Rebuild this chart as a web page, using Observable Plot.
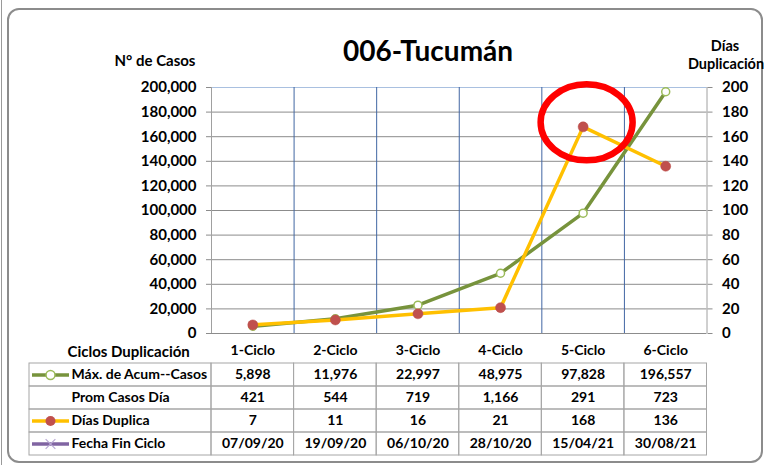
<!DOCTYPE html>
<html><head><meta charset="utf-8">
<script src="https://cdn.jsdelivr.net/npm/d3@7"></script>
<script src="https://cdn.jsdelivr.net/npm/@observablehq/plot@0.6"></script>
<style>
body{margin:0;background:#fff;font-family:Lato,"Open Sans",sans-serif;}
#wrap{position:relative;width:766px;height:465px;overflow:hidden;background:#fff;}
#frame{position:absolute;left:7px;top:8px;width:756px;height:455px;border:2px solid #8c8c8c;border-radius:12px;box-sizing:border-box;}
#edge{position:absolute;left:1px;top:0;width:1px;height:465px;background:#9a9a9a;}
.lbl{position:absolute;transform:translate(-50%,-50%);font-weight:bold;white-space:nowrap;color:#000;}
#chart,#table{position:absolute;left:0;}
#chart{top:0;} #table{top:333px;}
svg{overflow:visible;}
</style></head>
<body><div id="wrap">
<div id="edge"></div>
<div id="frame"></div>
<div id="chart"></div>
<div id="table"></div>
<div class="lbl" style="left:428px;top:50px;font-size:28px;">006-Tucumán</div>
<div class="lbl" style="left:155px;top:60px;font-size:15px;">N° de Casos</div>
<div class="lbl" style="left:725px;top:45px;font-size:14.5px;">Días</div>
<div class="lbl" style="left:726px;top:63px;font-size:14.5px;">Duplicación</div>
</div>
<script>
// ---- data ----
const categories = ["1-Ciclo","2-Ciclo","3-Ciclo","4-Ciclo","5-Ciclo","6-Ciclo"];
const maxCasos = [5898, 11976, 22997, 48975, 97828, 196557];
const promCasos = [421, 544, 719, 1166, 291, 723];
const diasDuplica = [7, 11, 16, 21, 168, 136];
const fechaFin = ["07/09/20","19/09/20","06/10/20","28/10/20","15/04/21","30/08/21"];
const casosTicks = [0,20000,40000,60000,80000,100000,120000,140000,160000,180000,200000];
const diasTicks = [0,20,40,60,80,100,120,140,160,180,200];
const rowNames = ["Ciclos Duplicación","Máx. de Acum--Casos","Prom Casos Día","Días Duplica","Fecha Fin Ciclo"];
const highlight = "5-Ciclo";

// ---- layout ----
const W = 766, xL = 211, xR = 706.5, yTop = 87, y0 = 333, H1 = 336;
const n = categories.length;
const k = casosTicks[casosTicks.length-1] / diasTicks[diasTicks.length-1]; // secondary axis factor
const font = {fontFamily:"Lato, 'Open Sans', sans-serif", fontWeight:"bold", color:"#000", background:"transparent", overflow:"visible"};
const rows = categories.map((c,i)=>({c, xi:i+0.5, casos:maxCasos[i], dias:diasDuplica[i]*k}));
const yMax = casosTicks[casosTicks.length-1];

function highlightMark(index, scales) {
  const i = categories.indexOf(highlight);
  const e = document.createElementNS("http://www.w3.org/2000/svg","ellipse");
  e.setAttribute("cx", scales.x(i+0.5) + 4);
  e.setAttribute("cy", scales.y(diasDuplica[i]*k) - 4);
  e.setAttribute("rx", 46);
  e.setAttribute("ry", 38);
  e.setAttribute("fill","none");
  e.setAttribute("stroke","#ff0000");
  e.setAttribute("stroke-width",6.5);
  return e;
}

const chart = Plot.plot({
  width: W, height: H1,
  marginLeft: xL, marginRight: W - xR, marginTop: yTop, marginBottom: H1 - y0,
  x: {domain:[0,n], axis:null},
  y: {domain:[0, yMax], axis:null},
  style: {...font, fontSize:"15px"},
  marks: [
    Plot.ruleY(casosTicks.filter(t=>t<yMax), {stroke:"#8c8c8c", strokeWidth:1}),
    Plot.ruleY([yMax], {stroke:"#a9c0e0", strokeWidth:1}),
    Plot.ruleX(d3.range(1,n), {stroke:"#4166a3", strokeWidth:1}),
    Plot.ruleX([0,n], {stroke:"#a0a0a0", strokeWidth:1}),
    Plot.axisY({anchor:"left", ticks:casosTicks, tickFormat:d3.format(","), tickSize:5, tickPadding:10, stroke:"#8c8c8c", fill:"#000", fontSize:15, fontWeight:"bold", label:null}),
    Plot.axisY({anchor:"right", ticks:casosTicks, tickFormat:d=>d3.format("d")(d/k), tickSize:5, tickPadding:10, stroke:"#8c8c8c", fill:"#000", fontSize:15, fontWeight:"bold", label:null}),
    Plot.line(rows, {x:"xi", y:"casos", stroke:"#77933C", strokeWidth:3.5}),
    Plot.dot(rows, {x:"xi", y:"casos", r:4, fill:"white", stroke:"#9BBB59", strokeWidth:1.5}),
    Plot.line(rows, {x:"xi", y:"dias", stroke:"#FFC000", strokeWidth:3.5}),
    Plot.dot(rows, {x:"xi", y:"dias", r:5, fill:"#C0504D", stroke:"#B84A47", strokeWidth:0.5}),
    highlightMark
  ]
});
document.getElementById("chart").appendChild(chart);

// ---- data table ----
const tableLeft = 29;
const unit = (xR - xL) / n;
const labelSpan = (xL - tableLeft) / unit;
const ux = px => (px - xL) / unit;
const H2 = 132, tTop = 5.4, rowH = 23.6;
const fmt = d3.format(",");
const bodyRows = [
  {row: rowNames[1], vals: maxCasos.map(fmt)},
  {row: rowNames[2], vals: promCasos.map(fmt)},
  {row: rowNames[3], vals: diasDuplica.map(String)},
  {row: rowNames[4], vals: fechaFin}
];
const cells = bodyRows.flatMap(r => r.vals.map((v,i)=>({row:r.row, i, text:v})));
const gridC = "#a6a6a6";

const table = Plot.plot({
  width: W, height: H2,
  marginLeft: tableLeft, marginRight: W - xR, marginTop: tTop, marginBottom: H2 - tTop - rowH*rowNames.length,
  x: {domain:[-labelSpan, n], axis:null},
  y: {domain: rowNames, axis:null, padding:0},
  style: {...font, fontSize:"14px"},
  marks: [
    Plot.barX(cells, {x1:"i", x2:d=>d.i+1, y:"row", fill:"none", stroke:gridC, strokeWidth:1}),
    Plot.barX(bodyRows, {x1:()=>-labelSpan, x2:()=>0, y:"row", fill:"none", stroke:gridC, strokeWidth:1}),
    Plot.ruleX(d3.range(0,n+1), {y:()=>rowNames[0], stroke:gridC, strokeWidth:1, insetTop:-6}),
    Plot.text(categories, {x:(d,i)=>i+0.5, y:()=>rowNames[0], fill:"#000", fontWeight:"bold", dy:-1}),
    Plot.text(cells, {x:d=>d.i+0.5, y:"row", text:"text", fill:"#000", fontWeight:"bold"}),
    Plot.text(rowNames.slice(0,1), {x:()=>ux(67), y:d=>d, textAnchor:"start", fill:"#000", fontWeight:"bold", fontSize:15}),
    Plot.text(rowNames.slice(1), {x:()=>ux(71), y:d=>d, textAnchor:"start", fill:"#000", fontWeight:"bold"}),
    // legend swatches
    Plot.ruleY([rowNames[1]], {y:d=>d, x1:()=>ux(32), x2:()=>ux(69), stroke:"#77933C", strokeWidth:3.5}),
    Plot.dot([rowNames[1]], {y:d=>d, x:()=>ux(50), r:4.5, fill:"white", stroke:"#9BBB59", strokeWidth:1.5}),
    Plot.ruleY([rowNames[3]], {y:d=>d, x1:()=>ux(32), x2:()=>ux(69), stroke:"#FFC000", strokeWidth:3.5}),
    Plot.dot([rowNames[3]], {y:d=>d, x:()=>ux(50), r:5, fill:"#C0504D"}),
    Plot.ruleY([rowNames[4]], {y:d=>d, x1:()=>ux(32), x2:()=>ux(69), stroke:"#8064A2", strokeWidth:3.5}),
    Plot.dot([rowNames[4]], {y:d=>d, x:()=>ux(50), r:4.5, symbol:"times", stroke:"#b9a9d4", strokeWidth:1.2})
  ]
});
document.getElementById("table").appendChild(table);
</script>
</body></html>
